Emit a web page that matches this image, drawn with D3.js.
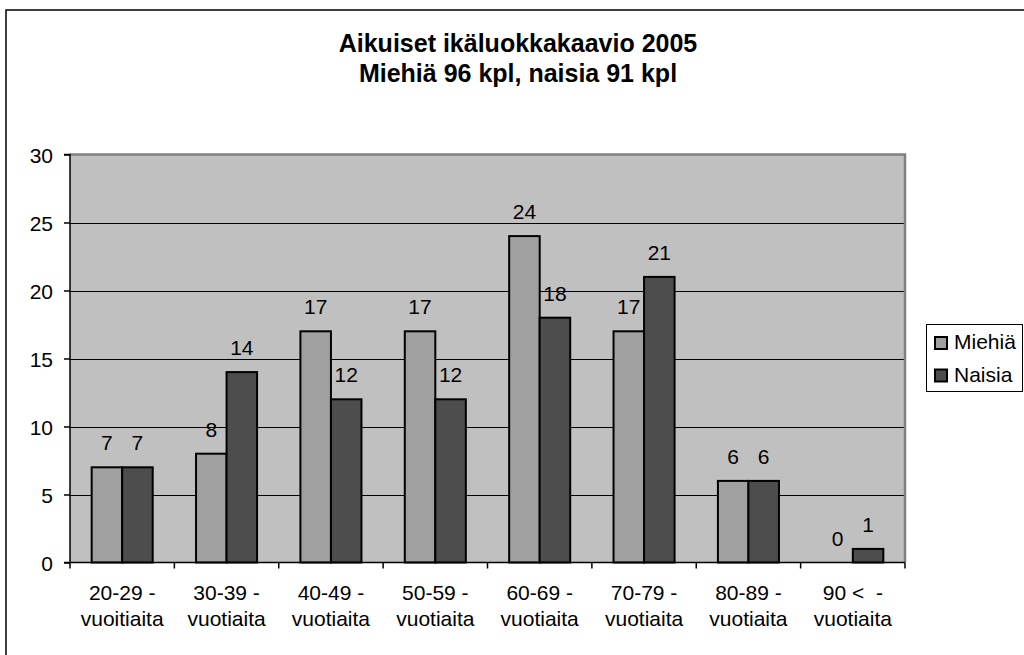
<!DOCTYPE html>
<html>
<head>
<meta charset="utf-8">
<script src="https://cdn.jsdelivr.net/npm/d3@7"></script>
<style>
  html, body { margin: 0; padding: 0; background: #fff; }
  svg { display: block; font-family: "Liberation Sans", Arial, sans-serif; }
</style>
</head>
<body>
<svg id="chart" width="1024" height="655"></svg>
<script>
const titleLines = ["Aikuiset ikäluokkakaavio 2005", "Miehiä 96 kpl, naisia 91 kpl"];
const categories = [
  ["20-29 -", "vuoitiaita"],
  ["30-39 -", "vuotiaita"],
  ["40-49 -", "vuotiaita"],
  ["50-59 -", "vuotiaita"],
  ["60-69 -", "vuotiaita"],
  ["70-79 -", "vuotiaita"],
  ["80-89 -", "vuotiaita"],
  ["90 <  -", "vuotiaita"]
];
const seriesNames = ["Miehiä", "Naisia"];
const miehia = [7, 8, 17, 17, 24, 17, 6, 0];
const naisia = [7, 14, 12, 12, 18, 21, 6, 1];
const yTicks = [0, 5, 10, 15, 20, 25, 30];
const seriesColors = ["#a0a0a0", "#4d4d4d"];

const values = [miehia, naisia];
const svg = d3.select("#chart");

const plot = { left: 70, right: 905, top: 154.5, bottom: 562.5 };

// outer border
svg.append("rect")
  .attr("x", 6).attr("y", 10).attr("width", 1040).attr("height", 680)
  .attr("fill", "#fff").attr("stroke", "#000").attr("stroke-width", 1.5);

// title
const title = svg.append("text")
  .attr("text-anchor", "middle")
  .attr("font-weight", "bold").attr("font-size", 25).attr("fill", "#000");
titleLines.forEach((t, i) => {
  title.append("tspan").attr("x", 518).attr("y", 52 + i * 29.5).text(t);
});

const catIdx = categories.map((d, i) => i);
const x0 = d3.scaleBand().domain(catIdx).range([plot.left, plot.right]).paddingInner(0).paddingOuter(0);
const x1 = d3.scaleBand().domain(seriesNames).range([0, x0.bandwidth()]).paddingInner(0).paddingOuter(0.71);
const y = d3.scaleLinear().domain([0, 30]).range([plot.bottom, plot.top]);

// plot background
svg.append("rect")
  .attr("x", plot.left).attr("y", plot.top)
  .attr("width", plot.right - plot.left).attr("height", plot.bottom - plot.top)
  .attr("fill", "#c0c0c0");

// gridlines
svg.append("g").selectAll("line")
  .data(yTicks.filter(v => v > 0 && v < 30))
  .join("line")
  .attr("x1", plot.left).attr("x2", plot.right)
  .attr("y1", d => Math.round(y(d)) + 0.5).attr("y2", d => Math.round(y(d)) + 0.5)
  .attr("stroke", "#000").attr("stroke-width", 1);

// plot border top/right (gray)
svg.append("path")
  .attr("d", `M${plot.left},${plot.top}H${plot.right}V${plot.bottom}`)
  .attr("fill", "none").attr("stroke", "#808080").attr("stroke-width", 2.5);

// bars
const groups = svg.append("g").selectAll("g")
  .data(catIdx).join("g")
  .attr("transform", d => `translate(${x0(d)},0)`);

groups.selectAll("rect")
  .data(ci => seriesNames.map((s, si) => ({ s, si, v: values[si][ci] })))
  .join("rect")
  .filter(d => d.v > 0)
  .attr("x", d => x1(d.s))
  .attr("y", d => y(d.v))
  .attr("width", x1.bandwidth())
  .attr("height", d => y(0) - y(d.v))
  .attr("fill", d => seriesColors[d.si])
  .attr("stroke", "#000").attr("stroke-width", 2);

groups.selectAll("text")
  .data(ci => seriesNames.map((s, si) => ({ s, si, v: values[si][ci] })))
  .join("text")
  .attr("x", d => x1(d.s) + x1.bandwidth() / 2)
  .attr("y", d => y(d.v) - 17)
  .attr("text-anchor", "middle")
  .attr("font-size", 21).attr("fill", "#000")
  .text(d => d.v);

// y axis
const yAxis = d3.axisLeft(y).tickValues(yTicks).tickSize(6).tickPadding(11).tickFormat(d3.format("d"));
const yg = svg.append("g").attr("transform", `translate(${plot.left},0)`).call(yAxis);
yg.select(".domain").attr("stroke", "#000").attr("stroke-width", 1.5).attr("d", `M-6,${plot.top}H0V${plot.bottom}H-6`);
yg.selectAll(".tick line").attr("stroke", "#000").attr("stroke-width", 1.5);
yg.selectAll(".tick text").attr("font-size", 21).attr("font-family", "Liberation Sans, Arial, sans-serif").attr("fill", "#000").attr("dy", "0.36em");

// x axis
const xg = svg.append("g");
xg.append("line")
  .attr("x1", plot.left).attr("x2", plot.right)
  .attr("y1", plot.bottom).attr("y2", plot.bottom)
  .attr("stroke", "#000").attr("stroke-width", 1.5);
const boundaries = catIdx.map(i => x0(i)).concat([x0(catIdx[catIdx.length - 1]) + x0.bandwidth()]);
xg.selectAll("line.tick").data(boundaries).join("line")
  .attr("class", "tick")
  .attr("x1", d => d).attr("x2", d => d)
  .attr("y1", plot.bottom).attr("y2", plot.bottom + 6)
  .attr("stroke", "#000").attr("stroke-width", 1.5);
const xl = xg.selectAll("text.lab").data(catIdx).join("text")
  .attr("class", "lab")
  .attr("text-anchor", "middle")
  .attr("font-size", 21).attr("fill", "#000");
xl.each(function(ci) {
  const t = d3.select(this);
  categories[ci].forEach((line, li) => {
    t.append("tspan")
      .attr("x", x0(ci) + x0.bandwidth() / 2)
      .attr("y", 600 + li * 26)
      .attr("xml:space", "preserve")
      .text(line);
  });
});

// legend
const lg = svg.append("g");
lg.append("rect")
  .attr("x", 926.5).attr("y", 324.5).attr("width", 96).attr("height", 67)
  .attr("fill", "#fff").attr("stroke", "#000").attr("stroke-width", 1);
seriesNames.forEach((s, i) => {
  lg.append("rect")
    .attr("x", 935).attr("y", 337 + i * 32.5).attr("width", 12).attr("height", 12)
    .attr("fill", seriesColors[i]).attr("stroke", "#000").attr("stroke-width", 2);
  lg.append("text")
    .attr("x", 954).attr("y", 349 + i * 32.5)
    .attr("font-size", 21).attr("fill", "#000")
    .text(s);
});
</script>
</body>
</html>
